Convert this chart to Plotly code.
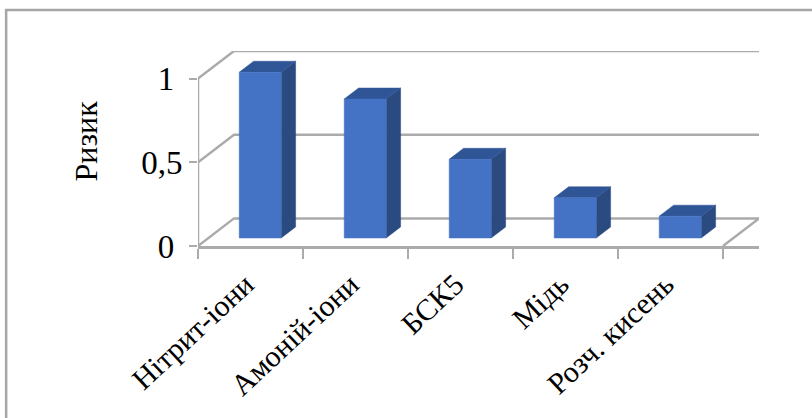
import plotly.graph_objects as go

categories = ["Нітрит-іони", "Амоній-іони", "БСК5", "Мідь", "Розч. кисень"]
risk = [0.99, 0.83, 0.47, 0.24, 0.13]
y_ticks = [0, 0.5, 1]
y_tick_labels = ["0\u00a0", "0,5", "1\u00a0"]

GRID = "#ABABAB"
FRONT = "#4472C4"
SIDE = "#2B4A80"
TOP = "#2F5597"
SERIF = "Liberation Serif"
LINE_WIDTH = 2.5

# Oblique projection: one unit of depth shifts a point along both axes.
DEPTH_X = 0.343
DEPTH_Y = 0.165
BAR_WIDTH = 0.40
BAR_OFFSET = -0.007
BAR_DEPTH_NEAR = 0.29
BAR_DEPTH_FAR = 0.69


def project(x, y, d):
    return x + d * DEPTH_X, y + d * DEPTH_Y


def polygon(points, color):
    xy = [project(*p) for p in points]
    return go.Scatter(
        x=[p[0] for p in xy] + [xy[0][0]],
        y=[p[1] for p in xy] + [xy[0][1]],
        mode="lines",
        fill="toself",
        fillcolor=color,
        line=dict(color=color, width=0.5),
        hoverinfo="skip",
        showlegend=False,
    )


def frame_line(points):
    xy = [project(*p) for p in points]
    return go.Scatter(
        x=[p[0] for p in xy],
        y=[p[1] for p in xy],
        mode="lines",
        line=dict(color=GRID, width=LINE_WIDTH),
        hoverinfo="skip",
        showlegend=False,
    )


fig = go.Figure()
n = len(categories)

# Vertical axis stops at the top tick, so it is drawn as a line of its own.
fig.add_trace(frame_line([(0, y_ticks[0], 0), (0, y_ticks[-1], 0)]))

# Back wall gridlines with their diagonals across the side wall.
for tick in y_ticks:
    fig.add_trace(frame_line([(0, tick, 0), (0, tick, 1), (n, tick, 1)]))

# Right edge of the floor.
fig.add_trace(frame_line([(n, 0, 0), (n, 0, 1)]))

# Each column is three faces: side, top and front.
for i, value in enumerate(risk):
    left = i + 0.5 - BAR_WIDTH / 2 + BAR_OFFSET
    right = left + BAR_WIDTH
    near, far = BAR_DEPTH_NEAR, BAR_DEPTH_FAR
    fig.add_trace(polygon([(right, 0, near), (right, 0, far), (right, value, far), (right, value, near)], SIDE))
    fig.add_trace(polygon([(left, value, near), (right, value, near), (right, value, far), (left, value, far)], TOP))
    fig.add_trace(polygon([(left, 0, near), (right, 0, near), (right, value, near), (left, value, near)], FRONT))

# Invisible trace that gives the category labels their axis.
fig.add_trace(go.Scatter(
    x=[i + 0.5 for i in range(n)], y=[0] * n, xaxis="x2",
    mode="markers", marker=dict(opacity=0), hoverinfo="skip", showlegend=False,
))

x_range = [0, n + DEPTH_X]
y_range = [0, 1 + DEPTH_Y]

fig.update_layout(
    width=812,
    height=418,
    margin=dict(l=198, r=53, t=51, b=172, autoexpand=False),
    paper_bgcolor="white",
    plot_bgcolor="white",
    font=dict(family=SERIF, color="black", size=30),
    xaxis=dict(
        range=x_range, tickvals=list(range(n + 1)), ticktext=[""] * (n + 1),
        ticks="outside", ticklen=10, tickwidth=2, tickcolor=GRID,
        showline=True, linecolor=GRID, linewidth=LINE_WIDTH, showgrid=False, zeroline=False,
    ),
    xaxis2=dict(
        range=x_range, overlaying="x", side="bottom", anchor="y",
        tickvals=[i + 0.5 for i in range(n)], ticktext=categories,
        tickangle=-43, ticks="", showline=False, showgrid=False, zeroline=False,
        ticklabelstandoff=14, ticklabelshift=-5,
        tickfont=dict(family=SERIF, size=30, color="black"),
    ),
    yaxis=dict(
        range=y_range, tickvals=y_ticks, ticktext=y_tick_labels,
        ticks="outside", ticklen=8, tickwidth=2, tickcolor=GRID,
        showline=False, showgrid=False, zeroline=False,
        tickfont=dict(family=SERIF, size=33, color="black"),
    ),
    annotations=[dict(
        text="Ризик", textangle=-90, xref="paper", yref="paper",
        x=-0.2, y=0.54, xanchor="center", yanchor="middle", showarrow=False,
        font=dict(family=SERIF, size=32, color="black"),
    )],
    shapes=[dict(
        type="rect", xref="paper", yref="paper",
        x0=-0.342, x1=1.2, y0=-1, y1=1.21,
        line=dict(color="#A6A6A6", width=2.5), fillcolor="rgba(0,0,0,0)", layer="below",
    )],
)

fig.write_html("out.html")
